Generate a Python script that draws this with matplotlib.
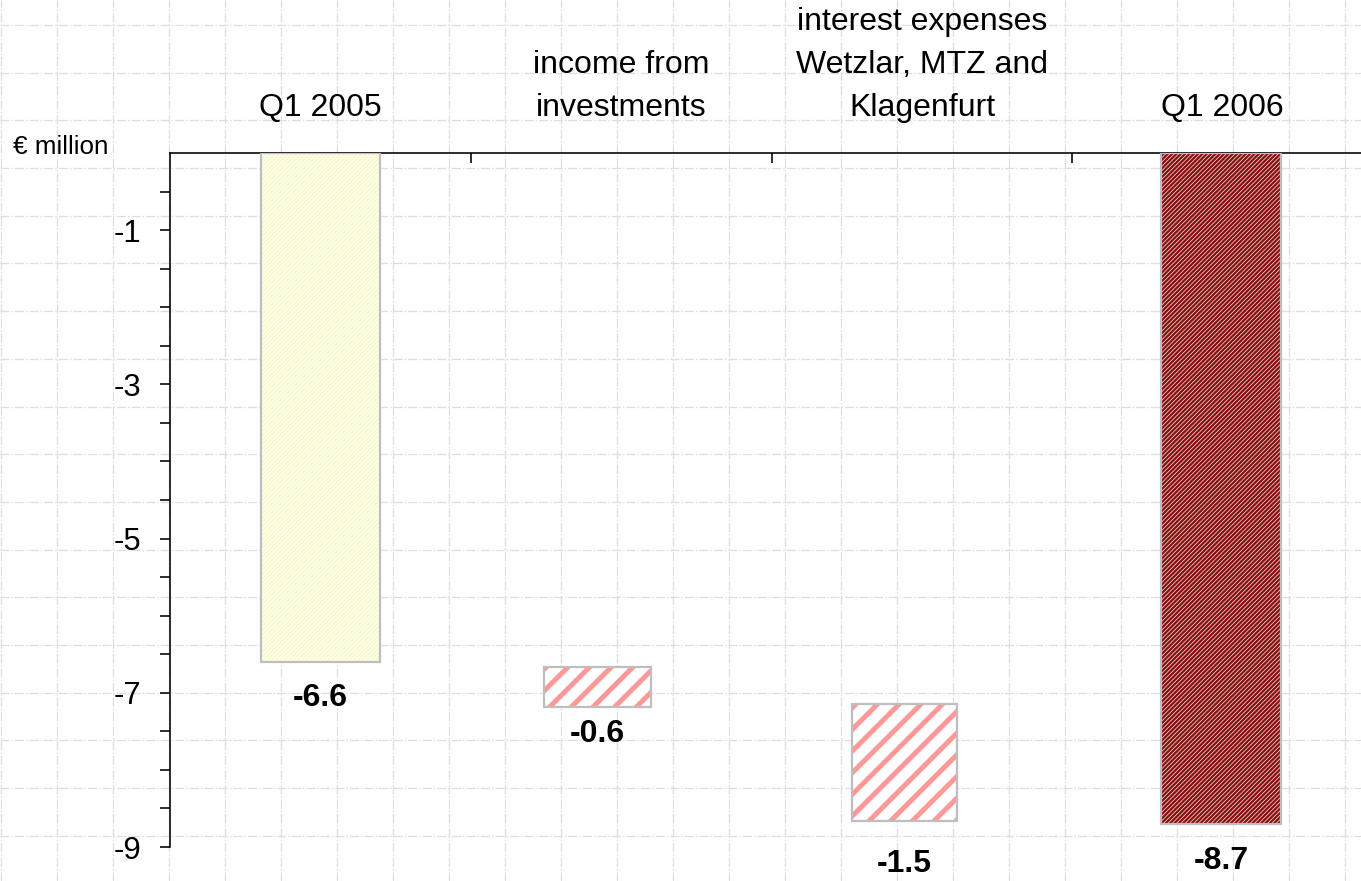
import numpy as np
import matplotlib
matplotlib.use("Agg")
import matplotlib.pyplot as plt
from matplotlib.ticker import FixedLocator

# ---------------- data ----------------
categories = ["Q1 2005", "income from\ninvestments",
              "interest expenses\nWetzlar, MTZ and\nKlagenfurt", "Q1 2006"]
bar_tops = [0.0, -6.67, -7.15, 0.0]
bar_bottoms = [-6.6, -7.19, -8.66, -8.7]
value_labels = ["-6.6", "-0.6", "-1.5", "-8.7"]
y_tick_values = [-9.0, -8.5, -8.0, -7.5, -7.0, -6.5, -6.0, -5.5, -5.0, -4.5,
                 -4.0, -3.5, -3.0, -2.5, -2.0, -1.5, -1.0, -0.5]
y_tick_labels = ["-9", "", "", "", "-7", "", "", "", "-5", "",
                 "", "", "-3", "", "", "", "-1", ""]
unit_label = "€ million"

# ---------------- styling ----------------
bar_offsets = [0.0, -0.079, -0.058, -0.006]
bar_widths = [0.396, 0.355, 0.351, 0.399]
bar_faces = ["#FFFFE6", "white", "white", "#F2DADA"]
hatch_colors = ["#F4F4C4", "#FF9999", "#FF9999", "#8A1010"]
hatches = ["//////////", "//", "//", "//////////"]
hatch_lw_px = [0.8, 5.0, 5.0, 2.3]
label_offsets_px = [36, 27, 43, 37]

DPI = 130
W, H = 1361, 881


def px(p):
    return p * 72.0 / DPI


plt.rcParams['font.family'] = ['Liberation Sans', 'DejaVu Sans']

fig = plt.figure(figsize=((W + 0.01) / DPI, (H + 0.01) / DPI), dpi=DPI)
fig.patch.set_facecolor("white")

# background paper grid
bg = fig.add_axes([0, 0, 1, 1], zorder=0)
bg.set_xlim(0, W)
bg.set_ylim(H, 0)
bg.axis("off")
grid_style = dict(color="#DEDEDE", lw=px(1.3), ls=(0, (7, 1.5, 1.2, 1.5)))
for gx in np.arange(1.3, W, 56.0):
    bg.axvline(gx, **grid_style)
for gy in np.arange(25.0, H, 47.7):
    bg.axhline(gy, **grid_style)

# main axes
ax_left, ax_top, ax_bottom, cat_w = 170, 153, 847, 300.8
ax = fig.add_axes([ax_left / W, (H - ax_bottom) / H,
                   4 * cat_w / W, (ax_bottom - ax_top) / H], zorder=1)
ax.set_facecolor("none")
ax.set_xlim(-0.5, 3.5)
ax.set_ylim(-9, 0)

for i in range(len(categories)):
    x = i + bar_offsets[i]
    height = bar_tops[i] - bar_bottoms[i]
    with plt.rc_context({'hatch.linewidth': px(hatch_lw_px[i])}):
        bars = ax.bar(x, height, bottom=bar_bottoms[i], width=bar_widths[i],
                      facecolor=bar_faces[i], edgecolor=hatch_colors[i],
                      hatch=hatches[i], linewidth=0, zorder=2)
    for p in bars:
        if hasattr(p, "set_hatch_linewidth"):
            p.set_hatch_linewidth(px(hatch_lw_px[i]))
    ax.bar(x, height, bottom=bar_bottoms[i], width=bar_widths[i],
           fill=False, edgecolor="#BEBEBE", linewidth=px(2.2), zorder=3)
    ax.annotate(value_labels[i], xy=(x, bar_bottoms[i]),
                xytext=(0, -px(label_offsets_px[i])), textcoords="offset points",
                ha="center", va="center", fontsize=px(32), fontweight="bold",
                annotation_clip=False)
    ax.annotate(categories[i], xy=(i, 1), xycoords=("data", "axes fraction"),
                xytext=(0, px(30)), textcoords="offset points",
                ha="center", va="bottom", fontsize=px(32), linespacing=1.57,
                annotation_clip=False)

# axes styling
for s in ["bottom", "right"]:
    ax.spines[s].set_visible(False)
for s in ["top", "left"]:
    ax.spines[s].set_linewidth(px(1.6))
    ax.spines[s].set_color("black")

ax.yaxis.set_major_locator(FixedLocator(y_tick_values))
ax.set_yticklabels(y_tick_labels)
ax.tick_params(axis="y", direction="out", length=px(10), width=px(1.6),
               pad=px(19), labelsize=px(31))
ax.xaxis.tick_top()
ax.set_xticks([0.5, 1.5, 2.5])
ax.set_xticklabels([])
ax.tick_params(axis="x", direction="in", length=px(10), width=px(1.6))

fig.text(13 / W, 1 - 154 / H, unit_label, fontsize=px(26), ha="left",
         va="baseline")

fig.savefig("out.png", dpi=DPI, facecolor="white")
